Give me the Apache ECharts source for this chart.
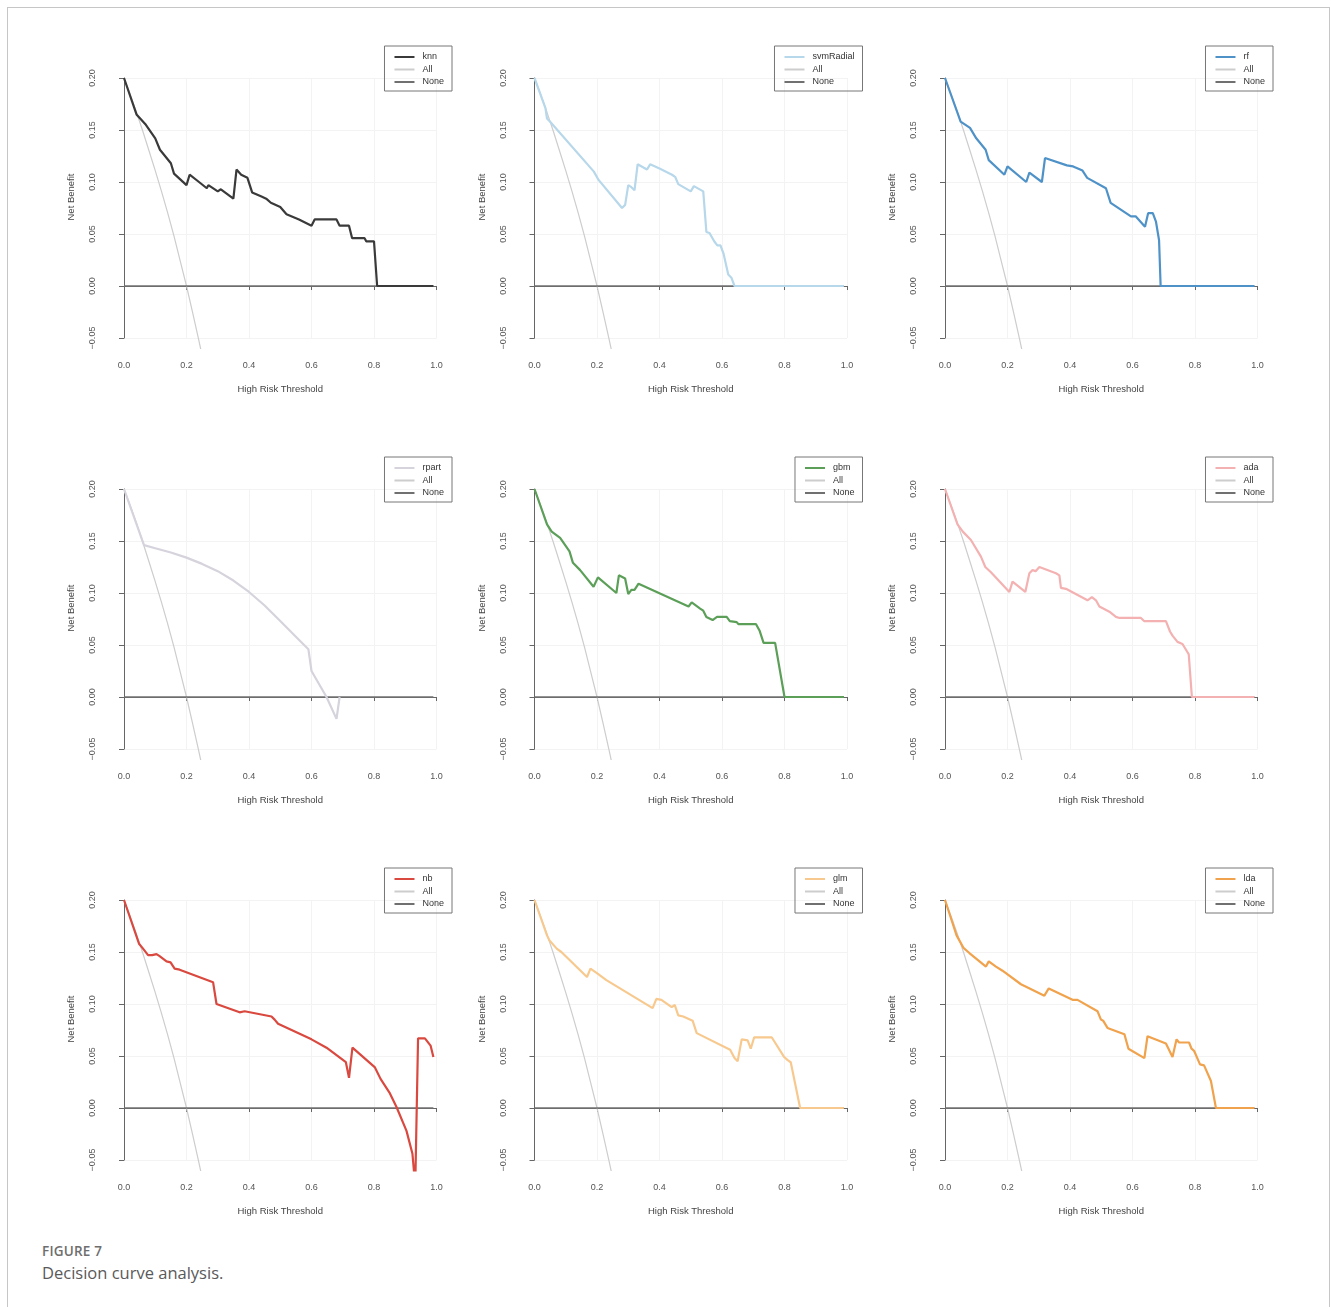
<!DOCTYPE html>
<html>
<head>
<meta charset="utf-8">
<script src="https://cdn.jsdelivr.net/npm/echarts@6/dist/echarts.min.js"></script>
<style>
html,body{margin:0;padding:0;background:#ffffff;}
#frame{position:absolute;left:7px;top:7px;width:1323px;height:1320px;border:1px solid #c6c6c6;box-sizing:border-box;}
#chart{position:absolute;left:0;top:0;width:1331px;height:1240px;}
#cap1{position:absolute;left:42px;top:1242px;font-family:'Open Sans',sans-serif;font-size:13.5px;font-weight:600;color:#6e6e6e;line-height:18px;letter-spacing:0.2px;}
#cap2{position:absolute;left:42px;top:1262px;font-family:'Open Sans',sans-serif;font-size:16.5px;font-weight:400;color:#5a5a5a;line-height:22px;}
</style>
</head>
<body>
<div id="frame"></div>
<div id="chart"></div>
<div id="cap1">FIGURE 7</div>
<div id="cap2">Decision curve analysis.</div>
<script>
// ---------- data (threshold, net benefit) ----------
const modelNames = ['knn', 'svmRadial', 'rf', 'rpart', 'gbm', 'ada', 'nb', 'glm', 'lda'];

const allX = [0, 0.02, 0.04, 0.06, 0.08, 0.10, 0.12, 0.14, 0.16, 0.18, 0.20, 0.22, 0.24, 0.26];
const allY = [0.200, 0.184, 0.167, 0.149, 0.130, 0.111, 0.091, 0.070, 0.048, 0.024, 0.000, -0.026, -0.053, -0.081];

const noneX = [0, 0.99];
const noneY = [0, 0];

const knn = [[0,0.2],[0.04,0.165],[0.07,0.155],[0.10,0.142],[0.115,0.131],[0.15,0.118],[0.16,0.108],[0.20,0.097],[0.21,0.107],[0.24,0.100],[0.265,0.094],[0.27,0.097],[0.30,0.091],[0.31,0.093],[0.35,0.084],[0.36,0.112],[0.375,0.107],[0.395,0.104],[0.41,0.090],[0.44,0.086],[0.455,0.084],[0.47,0.080],[0.50,0.076],[0.505,0.075],[0.52,0.069],[0.56,0.064],[0.60,0.058],[0.61,0.064],[0.68,0.064],[0.69,0.058],[0.72,0.058],[0.73,0.046],[0.77,0.046],[0.775,0.043],[0.80,0.043],[0.81,0],[0.99,0]];

const svmRadial = [[0,0.2],[0.035,0.171],[0.04,0.161],[0.05,0.158],[0.19,0.110],[0.205,0.102],[0.28,0.075],[0.29,0.078],[0.30,0.097],[0.31,0.095],[0.32,0.092],[0.33,0.117],[0.36,0.112],[0.37,0.117],[0.40,0.113],[0.44,0.107],[0.45,0.105],[0.46,0.098],[0.50,0.091],[0.51,0.096],[0.54,0.091],[0.55,0.052],[0.56,0.051],[0.575,0.043],[0.585,0.039],[0.595,0.039],[0.605,0.031],[0.62,0.011],[0.63,0.008],[0.64,0],[0.99,0]];

const rf = [[0,0.2],[0.05,0.158],[0.08,0.152],[0.10,0.142],[0.13,0.131],[0.14,0.121],[0.19,0.107],[0.20,0.115],[0.26,0.100],[0.27,0.109],[0.31,0.100],[0.32,0.123],[0.39,0.116],[0.41,0.115],[0.44,0.111],[0.455,0.104],[0.515,0.094],[0.53,0.080],[0.595,0.067],[0.61,0.067],[0.64,0.057],[0.65,0.070],[0.665,0.070],[0.675,0.062],[0.685,0.044],[0.69,0],[0.99,0]];

const rpart = [[0,0.2],[0.064,0.146],[0.10,0.143],[0.15,0.139],[0.20,0.134],[0.25,0.128],[0.30,0.121],[0.35,0.112],[0.40,0.101],[0.45,0.088],[0.50,0.073],[0.55,0.058],[0.59,0.046],[0.60,0.025],[0.648,0],[0.68,-0.021],[0.69,0]];

const gbm = [[0,0.2],[0.04,0.166],[0.055,0.159],[0.082,0.153],[0.112,0.140],[0.123,0.129],[0.146,0.122],[0.189,0.106],[0.203,0.115],[0.262,0.100],[0.27,0.117],[0.29,0.114],[0.30,0.099],[0.31,0.103],[0.32,0.103],[0.333,0.109],[0.493,0.087],[0.503,0.091],[0.53,0.085],[0.54,0.083],[0.55,0.077],[0.57,0.074],[0.584,0.077],[0.615,0.077],[0.625,0.073],[0.647,0.072],[0.653,0.070],[0.709,0.070],[0.72,0.064],[0.733,0.052],[0.77,0.052],[0.80,0],[0.99,0]];

const ada = [[0,0.2],[0.04,0.166],[0.057,0.159],[0.083,0.151],[0.115,0.135],[0.129,0.125],[0.147,0.120],[0.206,0.101],[0.216,0.111],[0.257,0.101],[0.27,0.119],[0.28,0.122],[0.29,0.121],[0.302,0.125],[0.355,0.119],[0.366,0.117],[0.371,0.105],[0.387,0.104],[0.456,0.093],[0.47,0.096],[0.483,0.093],[0.494,0.087],[0.526,0.082],[0.547,0.077],[0.558,0.076],[0.627,0.076],[0.637,0.073],[0.707,0.073],[0.72,0.063],[0.728,0.059],[0.744,0.053],[0.76,0.051],[0.776,0.043],[0.78,0.041],[0.79,0],[0.99,0]];

const nb = [[0,0.2],[0.048,0.158],[0.059,0.154],[0.077,0.147],[0.09,0.147],[0.104,0.148],[0.114,0.146],[0.136,0.141],[0.149,0.140],[0.162,0.134],[0.178,0.133],[0.285,0.121],[0.296,0.100],[0.370,0.092],[0.386,0.093],[0.472,0.088],[0.482,0.085],[0.493,0.081],[0.60,0.066],[0.648,0.058],[0.71,0.044],[0.72,0.029],[0.731,0.058],[0.803,0.039],[0.821,0.028],[0.851,0.014],[0.872,0.001],[0.904,-0.022],[0.923,-0.044],[0.932,-0.075],[0.941,0.067],[0.963,0.067],[0.981,0.060],[0.99,0.049]];

const glm = [[0,0.2],[0.04,0.166],[0.048,0.161],[0.072,0.153],[0.086,0.150],[0.168,0.126],[0.179,0.134],[0.203,0.129],[0.23,0.123],[0.378,0.096],[0.39,0.105],[0.406,0.104],[0.439,0.097],[0.449,0.099],[0.46,0.089],[0.476,0.088],[0.506,0.084],[0.519,0.072],[0.626,0.056],[0.64,0.048],[0.65,0.045],[0.663,0.066],[0.682,0.065],[0.692,0.057],[0.703,0.068],[0.759,0.068],[0.799,0.049],[0.81,0.046],[0.82,0.044],[0.85,0],[0.99,0]];

const lda = [[0,0.2],[0.037,0.166],[0.059,0.154],[0.078,0.149],[0.131,0.136],[0.14,0.141],[0.163,0.136],[0.184,0.132],[0.243,0.119],[0.318,0.108],[0.332,0.115],[0.408,0.104],[0.424,0.104],[0.488,0.093],[0.499,0.085],[0.506,0.084],[0.52,0.077],[0.574,0.071],[0.587,0.057],[0.638,0.048],[0.648,0.069],[0.707,0.062],[0.728,0.049],[0.741,0.066],[0.749,0.063],[0.781,0.063],[0.789,0.057],[0.797,0.055],[0.816,0.042],[0.829,0.041],[0.851,0.026],[0.867,0],[0.99,0]];

const modelData = [knn, svmRadial, rf, rpart, gbm, ada, nb, glm, lda];

// ---------- styles ----------
const modelColors = ['#3a3a3a', '#b7d7ea', '#4f92c8', '#d6d3dc', '#5c9f58', '#f4b1b1', '#d9493f', '#f8c98e', '#f0a24c'];
const FONT = 'Liberation Sans, Arial, sans-serif';
const AX = '#666666';

const grids = [], xAxes = [], yAxes = [], series = [], legends = [];
const allData = allX.map((x, i) => [x, allY[i]]);
const noneData = noneX.map((x, i) => [x, noneY[i]]);

for (let i = 0; i < 9; i++) {
  const r = Math.floor(i / 3), c = i % 3;
  const ox = 410.5 * c, oy = 411 * r;
  const x0 = 124 + ox, y0 = 78 + oy;     // pixel of (0, 0.20)
  const W = 312.5, H = 260;              // 0..1 and -0.05..0.20
  // display grid (axes)
  grids.push({ left: x0, top: y0, width: W, height: H, containLabel: false });
  // plot region grid (series)
  grids.push({ left: x0 - 0.04 * W, top: y0 - 0.01 * (H / 0.25), width: 1.08 * W, height: 0.27 * (H / 0.25), containLabel: false });
  const gd = 2 * i, gs = 2 * i + 1;
  xAxes.push({
    gridIndex: gd, type: 'value', min: 0, max: 1, interval: 0.2, offset: 10.5,
    name: 'High Risk Threshold', nameLocation: 'middle', nameGap: 36,
    nameTextStyle: { fontFamily: FONT, fontSize: 9.5, color: '#444' },
    axisLine: { show: true, lineStyle: { color: AX, width: 1 } },
    axisTick: { show: true, length: 4, lineStyle: { color: AX } },
    axisLabel: { fontFamily: FONT, fontSize: 9, color: '#555', margin: 13, formatter: v => v.toFixed(1) },
    splitLine: { show: true, lineStyle: { color: '#f3f3f3', width: 1 } }
  });
  xAxes.push({ gridIndex: gs, type: 'value', min: -0.04, max: 1.04, show: false });
  yAxes.push({
    gridIndex: gd, type: 'value', min: -0.05, max: 0.2, interval: 0.05, offset: 12.5,
    name: 'Net Benefit', nameLocation: 'middle', nameGap: 35,
    nameTextStyle: { fontFamily: FONT, fontSize: 9.5, color: '#444', padding: [0, 0, 0, 22] },
    axisLine: { show: true, lineStyle: { color: AX, width: 1 } },
    axisTick: { show: true, length: 5, lineStyle: { color: AX } },
    axisLabel: { fontFamily: FONT, fontSize: 9, color: '#555', margin: 14, rotate: 90,
      formatter: v => v.toFixed(2).replace('-', '\u2212') },
    splitLine: { show: true, lineStyle: { color: '#f3f3f3', width: 1 } }
  });
  yAxes.push({ gridIndex: gs, type: 'value', min: -0.06, max: 0.21, show: false });

  const name = modelNames[i];
  series.push({ name: 'All', type: 'line', xAxisIndex: gs, yAxisIndex: gs, data: allData,
    showSymbol: false, symbol: 'none', clip: true, lineStyle: { color: '#cdcdcd', width: 1.2 }, itemStyle: { color: '#cdcdcd' }, z: 2 });
  series.push({ name: 'None', type: 'line', xAxisIndex: gs, yAxisIndex: gs, data: noneData,
    showSymbol: false, symbol: 'none', clip: true, lineStyle: { color: '#707070', width: 1.5 }, itemStyle: { color: '#707070' }, z: 3 });
  series.push({ name: name, type: 'line', xAxisIndex: gs, yAxisIndex: gs, data: modelData[i],
    showSymbol: false, symbol: 'none', clip: true, lineStyle: { color: modelColors[i], width: 2.2 }, itemStyle: { color: modelColors[i] }, z: 4 });

  legends.push({
    data: [name, 'All', 'None'], orient: 'vertical',
    right: 1331 - (452 + ox), top: 46 + oy,
    padding: [6.5, 8, 4.5, 9], itemWidth: 20, itemHeight: 9, itemGap: 3.5,
    borderColor: '#777', borderWidth: 1, selectedMode: false,
    itemStyle: { opacity: 0, borderWidth: 0 },
    textStyle: { fontFamily: FONT, fontSize: 9, color: '#333', padding: [0, 0, 0, 3] }
  });
}

const chart = echarts.init(document.getElementById('chart'), null, { renderer: 'canvas' });
chart.setOption({
  animation: false,
  backgroundColor: 'transparent',
  grid: grids, xAxis: xAxes, yAxis: yAxes, series: series, legend: legends
});
</script>
</body>
</html>
